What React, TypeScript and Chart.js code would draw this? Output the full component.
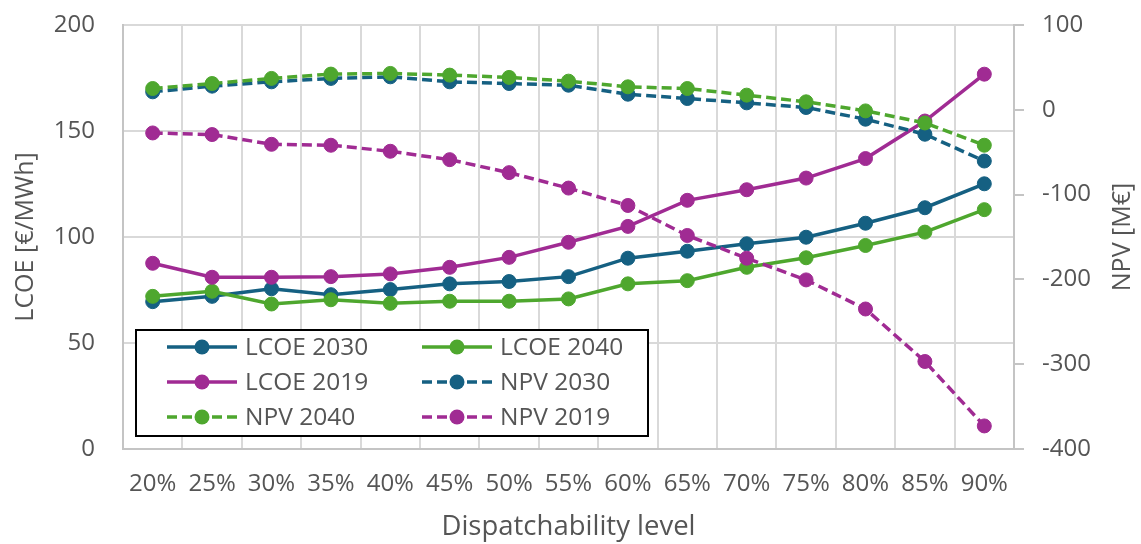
import React, { useEffect, useRef } from "react";
import { Chart, registerables } from "chart.js";

Chart.register(...registerables);

const categories = ["20%", "25%", "30%", "35%", "40%", "45%", "50%", "55%", "60%", "65%", "70%", "75%", "80%", "85%", "90%"];
const lcoe2030 = [69.5, 72, 75.6, 72.8, 75.2, 77.9, 79, 81.3, 90, 93.3, 96.8, 99.9, 106.5, 113.8, 125.1];
const lcoe2040 = [72, 74.4, 68.4, 70.4, 68.7, 69.7, 69.7, 70.8, 77.9, 79.4, 85.7, 90.2, 96, 102.3, 112.9];
const lcoe2019 = [87.6, 81, 81, 81.3, 82.6, 85.7, 90.4, 97.5, 105, 117.3, 122.3, 127.8, 137, 154.7, 176.8];
const npv2030 = [21.2, 27.9, 33, 37, 38.9, 33, 31, 29, 18.4, 13.3, 8.2, 2.7, -11.1, -28.8, -60.4];
const npv2040 = [25.1, 31, 37, 42.1, 42.9, 40.9, 38.2, 33.8, 27.1, 25.1, 17.3, 9.4, -1.3, -15.5, -41.8];
const npv2019 = [-27.3, -29.2, -40.7, -41.8, -48.9, -58.8, -74.1, -92.3, -112.8, -148.2, -175, -200.6, -234.9, -296.8, -372.8];

const BLUE = "#156082";
const GREEN = "#4EA72E";
const PURPLE = "#A02B93";
const TEXT = "#555555";
const GRID = "#d9d9d9";
const AXIS = "#c4c4c4";
const FONT = "'Open Sans', 'DejaVu Sans', sans-serif";
const DASH = [10, 5];
const RIGHT_TITLE = "NPV [M€]";

function mk(label: string, data: number[], color: string, axis: string, dashed: boolean, idx: number) {
  return {
    label,
    data,
    yAxisID: axis,
    borderColor: color,
    backgroundColor: color,
    pointBackgroundColor: color,
    pointBorderColor: color,
    pointRadius: 7,
    pointBorderWidth: 1,
    borderWidth: 3.5,
    borderDash: dashed ? DASH : [],
    tension: 0,
    fill: false,
    order: 6 - idx,
  };
}

const legendPlugin = {
  id: "boxLegend",
  afterDraw(chart: any) {
    const ctx = chart.ctx;
    const bx = 136, by = 330, bw = 512, bh = 106;
    ctx.save();
    ctx.fillStyle = "#ffffff";
    ctx.fillRect(bx, by, bw, bh);
    ctx.lineWidth = 2;
    ctx.strokeStyle = "#000000";
    ctx.strokeRect(bx, by, bw, bh);
    const cols = [167, 422];
    const rows = [347, 382, 417];
    chart.data.datasets.forEach((ds: any, i: number) => {
      const cx = cols[i % 2];
      const cy = rows[Math.floor(i / 2)];
      ctx.strokeStyle = ds.borderColor;
      ctx.lineWidth = 3.5;
      ctx.setLineDash(ds.borderDash || []);
      ctx.beginPath();
      ctx.moveTo(cx, cy);
      ctx.lineTo(cx + 70, cy);
      ctx.stroke();
      ctx.setLineDash([]);
      ctx.fillStyle = ds.borderColor;
      ctx.beginPath();
      ctx.arc(cx + 35, cy, 7.5, 0, Math.PI * 2);
      ctx.fill();
      ctx.fillStyle = TEXT;
      ctx.font = `24.5px ${FONT}`;
      ctx.textBaseline = "middle";
      ctx.textAlign = "left";
      ctx.fillText(ds.label, cx + 78, cy + 1);
    });
    // right axis title, reading bottom-to-top
    const area = chart.chartArea;
    ctx.fillStyle = TEXT;
    ctx.font = `25px ${FONT}`;
    ctx.textAlign = "center";
    ctx.textBaseline = "middle";
    ctx.translate(1123, (area.top + area.bottom) / 2);
    ctx.rotate(-Math.PI / 2);
    ctx.fillText(RIGHT_TITLE, 0, 0);
    ctx.restore();
  },
};

export default function App() {
  const ref = useRef<HTMLCanvasElement>(null);
  useEffect(() => {
    if (!ref.current) return;
    const chart = new Chart(ref.current, {
      type: "line",
      data: {
        labels: categories,
        datasets: [
          mk("LCOE 2030", lcoe2030, BLUE, "y", false, 0),
          mk("LCOE 2040", lcoe2040, GREEN, "y", false, 1),
          mk("LCOE 2019", lcoe2019, PURPLE, "y", false, 2),
          mk("NPV 2030", npv2030, BLUE, "y2", true, 3),
          mk("NPV 2040", npv2040, GREEN, "y2", true, 4),
          mk("NPV 2019", npv2019, PURPLE, "y2", true, 5),
        ] as any,
      },
      options: {
        animation: false,
        responsive: false,
        maintainAspectRatio: false,
        layout: { padding: { top: 25, left: 0, right: 0, bottom: 0 } },
        plugins: { legend: { display: false }, tooltip: { enabled: false } },
        scales: {
          x: {
            type: "category",
            offset: true,
            grid: { offset: true, color: GRID, lineWidth: 2, drawTicks: false },
            border: { color: AXIS, width: 2 },
            ticks: { color: TEXT, font: { family: FONT, size: 24 }, padding: 21, maxRotation: 0, autoSkip: false },
            title: { display: true, text: "Dispatchability level", color: TEXT, font: { family: FONT, size: 27.5 }, padding: { top: 0, bottom: 0 } },
            afterFit: (s: any) => { s.height = 95; },
          },
          y: {
            position: "left",
            min: 0,
            max: 200,
            ticks: { stepSize: 50, color: TEXT, font: { family: FONT, size: 24 }, padding: 28 },
            grid: { color: GRID, lineWidth: 2, drawTicks: false },
            border: { color: AXIS, width: 2 },
            title: { display: true, text: "LCOE [€/MWh]", color: TEXT, font: { family: FONT, size: 25 }, padding: { top: 11, bottom: 0 } },
            afterFit: (s: any) => { s.width = 123; s.paddingTop = 10; s.paddingBottom = 10; },
          },
          y2: {
            position: "right",
            min: -400,
            max: 100,
            ticks: { stepSize: 100, color: TEXT, font: { family: FONT, size: 24 }, padding: 18 },
            grid: { drawOnChartArea: false, color: AXIS, lineWidth: 2, tickLength: 10 },
            border: { color: AXIS, width: 2 },
            afterFit: (s: any) => { s.width = 127; s.paddingTop = 10; s.paddingBottom = 10; },
          },
        },
      },
      plugins: [legendPlugin],
    } as any);
    return () => chart.destroy();
  }, []);
  return (
    <div style={{ position: "fixed", left: 0, top: 0, width: 1141, height: 544, background: "#fff" }}>
      <canvas ref={ref} width={1141} height={544} style={{ width: 1141, height: 544, display: "block" }} />
    </div>
  );
}
